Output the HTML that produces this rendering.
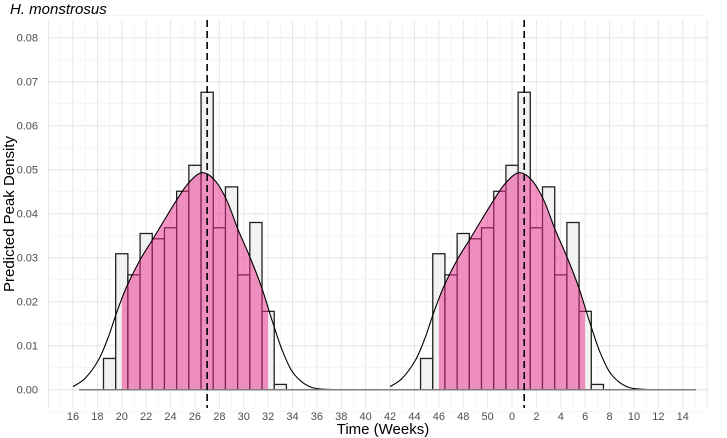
<!DOCTYPE html>
<html><head><meta charset="utf-8">
<style>
html,body{margin:0;padding:0;background:#fff;}
svg{display:block;font-family:"Liberation Sans",sans-serif;}
</style></head>
<body>
<svg id="chart" width="727" height="438">
  <text x="10" y="14" font-size="15" font-style="italic" fill="#000">H. monstrosus</text>
  <text transform="translate(14,214) rotate(-90)" text-anchor="middle" font-size="15" fill="#000">Predicted Peak Density</text>
  <text x="383" y="434" text-anchor="middle" font-size="15" fill="#000">Time (Weeks)</text>
  <g id="grid"></g>
  <g id="ylab"></g>
  <g id="xlab"></g>
  <g id="bars"></g>
  <g id="dens"></g>
  <g id="lines"></g>
</svg>
<script>
const binCenters = [19,20,21,22,23,24,25,26,27,28,29,30,31,32,33];
const binValues = [0.0071,0.0309,0.0261,0.0355,0.0343,0.0368,0.0451,0.0510,0.0676,0.0368,0.0461,0.0261,0.0380,0.0178,0.0012];
const curveWeeks = [16.0,17.0,18.1,18.9,19.6,20.4,21.5,22.5,23.5,24.5,25.45,26.55,27.6,28.6,29.55,30.5,31.45,32.4,33.25,34.2,35.6,37.7];
const curveValues = [0.0007,0.0026,0.0068,0.012,0.0177,0.0234,0.0295,0.034,0.0386,0.0431,0.0469,0.0493,0.0477,0.0431,0.0363,0.0302,0.0234,0.0151,0.0083,0.0033,0.0005,0.0];
const copyOffsets = [0,26];
const peakWeeks = [27,53];
const fillRange = [20,32];
const yTicks = [0,0.01,0.02,0.03,0.04,0.05,0.06,0.07,0.08];
const xTickLabels = ["16","18","20","22","24","26","28","30","32","34","36","38","40","42","44","46","48","50","0","2","4","6","8","10","12","14"];

const NS="http://www.w3.org/2000/svg";
const X0=73, PXW=12.195, Y0=389.7, PXY=4400;
const x=u=>X0+(u-16)*PXW;
const y=v=>Y0-v*PXY;
const TOP=20, BOT=408, LEFT=48, RIGHT=707;
function mk(tag,attrs,parent){const e=document.createElementNS(NS,tag);for(const k in attrs)e.setAttribute(k,attrs[k]);parent.appendChild(e);return e;}

const grid=document.getElementById('grid');
for(let u=14;u<=68;u++){
  const l=mk('line',{x1:x(u),x2:x(u),y1:TOP,y2:BOT,stroke:u%2===0?'#e6e6e6':'#f1f1f1','stroke-width':u%2===0?1:0.7},grid);
  
  
}
for(let i=0;i<=18;i++){
  const v=-0.005+i*0.005;
  const l=mk('line',{x1:LEFT,x2:RIGHT,y1:y(v),y2:y(v),stroke:i%2===1?'#e6e6e6':'#f1f1f1','stroke-width':i%2===1?1:0.7},grid);
  
  
}
const ylab=document.getElementById('ylab');
yTicks.forEach(v=>{
  const t=mk('text',{x:38,y:y(v)+4,'text-anchor':'end','font-size':11,fill:'#4d4d4d'},ylab);
  t.textContent=v.toFixed(2);
  
  
});
const xlab=document.getElementById('xlab');
xTickLabels.forEach((s,i)=>{
  const t=mk('text',{x:x(16+2*i),y:420,'text-anchor':'middle','font-size':11,fill:'#4d4d4d'},xlab);
  t.textContent=s;
  
  
});

function smoothPath(pts){
  let d='M'+pts[0][0]+','+pts[0][1];
  for(let i=0;i<pts.length-1;i++){
    const p0=pts[Math.max(0,i-1)],p1=pts[i],p2=pts[i+1],p3=pts[Math.min(pts.length-1,i+2)];
    const c1=[p1[0]+(p2[0]-p0[0])/6,p1[1]+(p2[1]-p0[1])/6];
    const c2=[p2[0]-(p3[0]-p1[0])/6,p2[1]-(p3[1]-p1[1])/6];
    d+=' C'+c1[0]+','+c1[1]+' '+c2[0]+','+c2[1]+' '+p2[0]+','+p2[1];
  }
  return d;
}

const bars=document.getElementById('bars');
const dens=document.getElementById('dens');
const defs=mk('defs',{},document.getElementById('chart'));
copyOffsets.forEach((off,k)=>{
  binCenters.forEach((c,i)=>{
    const r=mk('rect',{x:x(c+off-0.5),y:y(binValues[i]),width:PXW,height:Y0-y(binValues[i]),fill:'#f2f2f2',stroke:'#222','stroke-width':1.3},bars);
    
    
  });
  const pts=curveWeeks.map((u,i)=>[x(u+off),y(curveValues[i])]);
  const cp=mk('clipPath',{id:'clip'+k},defs);
  mk('rect',{x:x(fillRange[0]+off),y:0,width:x(fillRange[1]+off)-x(fillRange[0]+off),height:Y0},cp);
  const area=mk('path',{d:smoothPath(pts)+' L'+pts[pts.length-1][0]+','+Y0+' L'+pts[0][0]+','+Y0+' Z',fill:'#e7298a','fill-opacity':0.5,'clip-path':'url(#clip'+k+')'},dens);
  
  
  const line=mk('path',{d:smoothPath(pts),fill:'none',stroke:'#000','stroke-width':1.1},dens);
  
  
});
const lines=document.getElementById('lines');
const base=mk('line',{x1:x(16.5),x2:x(67.1),y1:Y0,y2:Y0,stroke:'#808080','stroke-width':1.5},lines);


peakWeeks.forEach(u=>{
  const l=mk('line',{x1:x(u),x2:x(u),y1:TOP,y2:BOT,stroke:'#000','stroke-width':1.6,'stroke-dasharray':'7,4'},lines);
  
  
});
</script>
</body></html>
